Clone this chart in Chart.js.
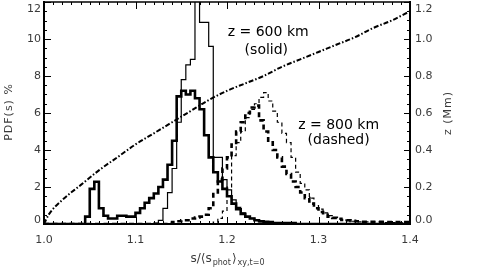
<!DOCTYPE html>
<html lang="en">
<head>
<meta charset="UTF-8">
<title>PDF(s) histograms</title>
<style>
  body { margin: 0; background: #fff; }
  #chart { display: block; }
</style>
</head>
<body>
<canvas id="chart" width="477" height="277"></canvas>
<script src="https://cdn.jsdelivr.net/npm/chart.js"></script>
<script>
// histogram bins, 0.005 wide, left edge of the first bin at 1.0
const binStart = 1.0;
const binWidth = 0.005;

// z = 600 km (solid), thick
const solidThick = [
  0, 0, 0, 0, 0, 0, 0, 0, 0, 0,
  0.4, 1.9, 2.28, 0.85, 0.45, 0.3, 0.3, 0.45, 0.45, 0.4,
  0.4, 0.6, 0.85, 1.15, 1.4, 1.65, 2.0, 2.4, 3.2, 4.5,
  6.9, 7.2, 7.0, 7.2, 6.8, 6.2, 4.8, 3.6, 2.8, 2.3,
  1.9, 1.5, 1.1, 0.8, 0.55, 0.4, 0.3, 0.2, 0.15, 0.12,
  0.1, 0.05, 0.05, 0.05, 0.05, 0.05, 0, 0, 0, 0,
  0, 0, 0, 0, 0, 0, 0, 0, 0, 0,
  0, 0, 0, 0, 0, 0, 0, 0, 0, 0
];
// z = 600 km (solid), thin
const solidThin = [
  0, 0, 0, 0, 0, 0, 0, 0, 0, 0,
  0, 0, 0, 0, 0, 0, 0, 0, 0, 0,
  0, 0, 0, 0, 0, 0.05, 0.2, 0.85, 1.7, 3.0,
  5.5, 7.8, 8.6, 8.9, 12.5, 10.9, 10.9, 9.6, 3.6, 3.6,
  2.4, 1.85, 1.3, 0.9, 0.6, 0.4, 0.3, 0.2, 0.12, 0.08,
  0.05, 0.05, 0.05, 0.05, 0, 0, 0, 0, 0, 0,
  0, 0, 0, 0, 0, 0, 0, 0, 0, 0,
  0, 0, 0, 0, 0, 0, 0, 0, 0, 0
];
// z = 800 km (dashed), thick
const dashedThick = [
  0, 0, 0, 0, 0, 0, 0, 0, 0, 0,
  0, 0, 0, 0, 0, 0, 0, 0, 0, 0,
  0, 0, 0, 0, 0, 0, 0, 0, 0.05, 0.1,
  0.15, 0.2, 0.2, 0.3, 0.35, 0.4, 0.5, 0.85, 1.7, 2.4,
  3.0, 3.6, 4.3, 5.0, 5.5, 6.0, 6.3, 6.4, 5.6, 5.0,
  4.5, 4.0, 3.6, 3.1, 2.7, 2.3, 2.0, 1.7, 1.4, 1.1,
  0.85, 0.65, 0.5, 0.4, 0.33, 0.28, 0.22, 0.2, 0.17, 0.15,
  0.12, 0.12, 0.12, 0.12, 0.12, 0.12, 0.1, 0.1, 0.1, 0.1
];
// z = 800 km (dashed), thin
const dashedThin = [
  0, 0, 0, 0, 0, 0, 0, 0, 0, 0,
  0, 0, 0, 0, 0, 0, 0, 0, 0, 0,
  0, 0, 0, 0, 0, 0, 0, 0, 0, 0,
  0, 0, 0, 0, 0, 0, 0, 0, 0.1, 0.3,
  0.7, 2.0, 3.7, 4.4, 5.0, 5.75, 6.2, 6.5, 6.85, 7.1,
  6.65, 6.1, 5.5, 4.9, 4.4, 3.6, 2.8, 2.2, 1.85, 1.4,
  1.0, 0.8, 0.6, 0.45, 0.35, 0.28, 0.22, 0.18, 0.15, 0.12,
  0.12, 0.12, 0.12, 0.12, 0.12, 0.08, 0.08, 0.08, 0.08, 0.08
];

// height z (Mm) against s, right axis
const zS  = [1.0, 1.005, 1.02, 1.04, 1.06, 1.08, 1.10, 1.12, 1.14, 1.16, 1.18,
             1.20, 1.22, 1.24, 1.26, 1.28, 1.30, 1.32, 1.34, 1.36, 1.38, 1.40];
const zMm = [0.0, 0.05, 0.13, 0.21, 0.29, 0.36, 0.43, 0.49, 0.55, 0.61, 0.67,
             0.72, 0.76, 0.80, 0.85, 0.89, 0.93, 0.97, 1.01, 1.06, 1.10, 1.15];

// axes
const xTicks = [1.0, 1.1, 1.2, 1.3, 1.4];
const yTicks = [0, 2, 4, 6, 8, 10, 12];
const zTicks = [0.0, 0.2, 0.4, 0.6, 0.8, 1.0, 1.2];
const xMinorStep = 0.01, yMinorStep = 0.5, zMinorStep = 0.05;

const yTitle = 'PDF(s) %';
const zTitle = 'z (Mm)';
const xTitle = [['s/⟨s', false], ['phot', true], ['⟩', false], ['xy,t=0', true]];
const notes = [
  { text: 'z = 600 km', s: 1.245, v: 10.35 },
  { text: '(solid)', s: 1.243, v: 9.4 },
  { text: 'z = 800 km', s: 1.322, v: 5.35 },
  { text: '(dashed)', s: 1.322, v: 4.5 }
];

function steps(values) {
  const pts = values.map((v, i) => ({ x: binStart + i * binWidth, y: v }));
  pts.push({ x: binStart + values.length * binWidth, y: values[values.length - 1] });
  return pts;
}

const labelFont = '11px "DejaVu Sans"';
const labelColor = '#3a3a3a';

const frame = {
  id: 'frame',
  afterDraw(chart) {
    const { ctx, chartArea: a, scales } = chart;
    const sx = scales.x, sy = scales.y, sz = scales.z;
    ctx.save();
    ctx.strokeStyle = '#000';

    function seg(x1, y1, x2, y2) {
      ctx.beginPath();
      ctx.moveTo(x1, y1);
      ctx.lineTo(x2, y2);
      ctx.stroke();
    }

    // tick marks, pointing inwards
    ctx.lineWidth = 1;
    const nx = Math.round((sx.max - sx.min) / xMinorStep);
    for (let i = 0; i <= nx; i++) {
      const px = Math.round(sx.getPixelForValue(sx.min + i * xMinorStep)) + 0.5;
      const len = i % 10 === 0 ? 7 : 3;
      seg(px, a.bottom, px, a.bottom - len);
      seg(px, a.top, px, a.top + len);
    }
    const ny = Math.round((sy.max - sy.min) / yMinorStep);
    for (let i = 0; i <= ny; i++) {
      const py = Math.round(sy.getPixelForValue(sy.min + i * yMinorStep)) + 0.5;
      seg(a.left, py, a.left + (i % 4 === 0 ? 7 : 3), py);
    }
    const nz = Math.round((sz.max - sz.min) / zMinorStep);
    for (let i = 0; i <= nz; i++) {
      const py = Math.round(sz.getPixelForValue(sz.min + i * zMinorStep)) + 0.5;
      seg(a.right, py, a.right - (i % 4 === 0 ? 6 : 3), py);
    }

    // box
    ctx.lineWidth = 2;
    seg(a.left, a.top - 1, a.left, a.bottom + 1);
    seg(a.right, a.top - 1, a.right, a.bottom + 1);
    seg(a.left - 1, a.bottom, a.right + 1, a.bottom);
    ctx.lineWidth = 1.5;
    seg(a.left, a.top, a.right, a.top);

    // tick labels
    ctx.font = labelFont;
    ctx.fillStyle = labelColor;
    ctx.textBaseline = 'middle';
    const clampY = y => Math.min(Math.max(y, a.top + 7), a.bottom - 4);
    ctx.textAlign = 'right';
    yTicks.forEach(v => ctx.fillText(String(v), a.left - 3, clampY(sy.getPixelForValue(v))));
    ctx.textAlign = 'left';
    zTicks.forEach(v => ctx.fillText(v.toFixed(1), a.right + 5, clampY(sz.getPixelForValue(v))));
    ctx.textAlign = 'center';
    xTicks.forEach(v => ctx.fillText(v.toFixed(1), sx.getPixelForValue(v), a.bottom + 16));

    // axis titles
    ctx.letterSpacing = '1px';
    ctx.save();
    ctx.translate(9, 112);
    ctx.rotate(-Math.PI / 2);
    ctx.fillText(yTitle, 0, 0);
    ctx.restore();
    ctx.save();
    ctx.translate(448, 113);
    ctx.rotate(-Math.PI / 2);
    ctx.fillText(zTitle, 0, 0);
    ctx.restore();
    ctx.letterSpacing = '0px';

    ctx.textBaseline = 'alphabetic';
    ctx.textAlign = 'left';
    const big = '12px "DejaVu Sans"', small = '8px "DejaVu Sans"';
    let w = 0;
    xTitle.forEach(([t, sub]) => { ctx.font = sub ? small : big; w += ctx.measureText(t).width + 1; });
    let cx = 228 - w / 2;
    xTitle.forEach(([t, sub]) => {
      ctx.font = sub ? small : big;
      ctx.fillText(t, cx, sub ? 265 : 262);
      cx += ctx.measureText(t).width + 1;
    });

    // notes
    ctx.font = '14px "DejaVu Sans"';
    ctx.fillStyle = '#000';
    ctx.textAlign = 'center';
    ctx.textBaseline = 'middle';
    notes.forEach(n => ctx.fillText(n.text, sx.getPixelForValue(n.s), sy.getPixelForValue(n.v)));
    ctx.restore();
  }
};

new Chart(document.getElementById('chart'), {
  type: 'line',
  data: {
    datasets: [
      {
        data: zS.map((s, i) => ({ x: s, y: zMm[i] })),
        yAxisID: 'z',
        borderColor: '#000',
        borderWidth: 2,
        borderDash: [5, 2, 1.5, 2],
        cubicInterpolationMode: 'monotone',
        pointRadius: 0
      },
      {
        data: steps(solidThick),
        borderColor: '#000',
        borderWidth: 2.6,
        stepped: 'after',
        pointRadius: 0
      },
      {
        data: steps(solidThin),
        borderColor: '#000',
        borderWidth: 1.2,
        stepped: 'after',
        pointRadius: 0
      },
      {
        data: steps(dashedThick),
        borderColor: '#000',
        borderWidth: 2.6,
        borderDash: [5, 3.5],
        stepped: 'after',
        pointRadius: 0
      },
      {
        data: steps(dashedThin),
        borderColor: '#000',
        borderWidth: 1.2,
        borderDash: [4, 3],
        stepped: 'after',
        pointRadius: 0
      }
    ]
  },
  options: {
    responsive: false,
    animation: false,
    layout: { padding: { left: 44, right: 67, top: 2, bottom: 53 } },
    plugins: { legend: { display: false }, tooltip: { enabled: false } },
    scales: {
      x: { type: 'linear', min: 1.0, max: 1.4, display: false },
      y: { min: 0, max: 12, display: false },
      z: { min: 0, max: 1.2, position: 'right', display: false }
    }
  },
  plugins: [frame]
});
</script>
</body>
</html>
